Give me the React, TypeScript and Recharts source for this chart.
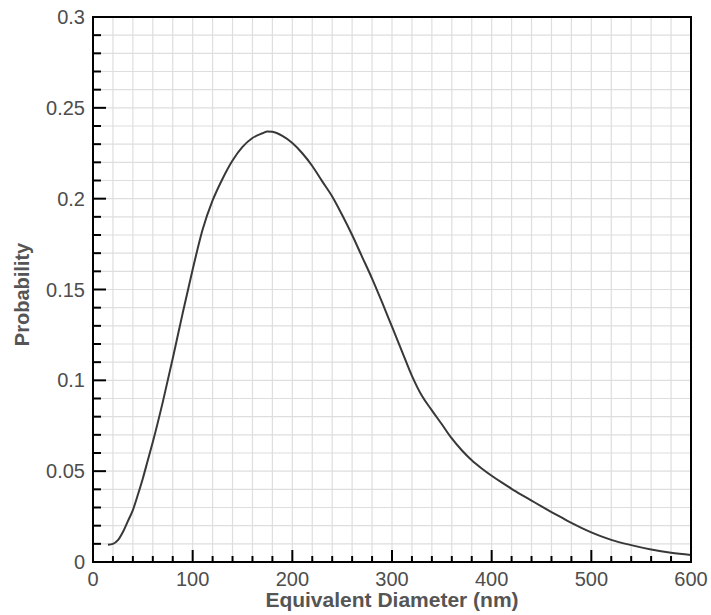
import { LineChart, Line, XAxis, YAxis, CartesianGrid, ReferenceArea, Label } from 'recharts';

// equivalent diameter (nm) and probability
const diameters = [
  15, 20, 25, 30, 35, 40, 45, 50, 55, 60, 70, 80, 90, 100, 110, 120, 130, 140, 150, 160, 170, 175, 180,
  190, 200, 210, 220, 230, 240, 250, 260, 270, 280, 290, 300, 310, 320, 330, 340, 350, 360, 370, 380,
  390, 400, 410, 420, 430, 440, 450, 460, 470, 480, 490, 500, 510, 520, 540, 560, 580, 600,
];
const probabilities = [
  0.0095, 0.01, 0.012, 0.0165, 0.0225, 0.0286, 0.037, 0.046, 0.056, 0.066, 0.088, 0.112, 0.137, 0.161,
  0.183, 0.199, 0.211, 0.221, 0.2285, 0.2334, 0.236, 0.237, 0.2368, 0.2345, 0.2306, 0.225, 0.218, 0.2095,
  0.2012, 0.191, 0.18, 0.168, 0.156, 0.143, 0.1295, 0.116, 0.1025, 0.0915, 0.0835, 0.0758, 0.068, 0.0615,
  0.056, 0.0515, 0.0475, 0.0438, 0.0403, 0.037, 0.0338, 0.0306, 0.0275, 0.0245, 0.0215, 0.0188, 0.0163,
  0.0141, 0.0122, 0.0093, 0.0069, 0.0051, 0.0039,
];

const xTicks = [
  0, 20, 40, 60, 80, 100, 120, 140, 160, 180, 200, 220, 240, 260, 280, 300, 320, 340, 360, 380, 400,
  420, 440, 460, 480, 500, 520, 540, 560, 580, 600,
];
const yTicks = [
  0, 0.01, 0.02, 0.03, 0.04, 0.05, 0.06, 0.07, 0.08, 0.09, 0.1, 0.11, 0.12, 0.13, 0.14, 0.15, 0.16,
  0.17, 0.18, 0.19, 0.2, 0.21, 0.22, 0.23, 0.24, 0.25, 0.26, 0.27, 0.28, 0.29, 0.3,
];

const data = diameters.map((d, i) => ({ d, p: probabilities[i] }));

const font = '"Liberation Sans", Arial, sans-serif';
const labelColor = '#4d4d4d';

function XTick(props: any) {
  const { x, y, payload } = props;
  const v = payload.value;
  const major = v % 100 === 0;
  return (
    <g>
      <line x1={x} x2={x} y1={y} y2={y - (major ? 12 : 6)} stroke="#000" strokeWidth={2} />
      {major && (
        <text x={x} y={y + 24} textAnchor="middle" fontSize={20} fill={labelColor} fontFamily={font}>
          {v}
        </text>
      )}
    </g>
  );
}

function YTick(props: any) {
  const { x, y, payload } = props;
  const v = payload.value;
  const major = Math.round(v * 100) % 5 === 0;
  return (
    <g>
      <line x1={x} x2={x + (major ? 13 : 8)} y1={y} y2={y} stroke="#000" strokeWidth={2} />
      {major && (
        <text x={x - 8} y={y + 7} textAnchor="end" fontSize={20} fill={labelColor} fontFamily={font}>
          {String(v)}
        </text>
      )}
    </g>
  );
}

export default function App() {
  return (
    <div style={{ position: 'absolute', left: 0, top: 0, background: '#fff' }}>
      <LineChart width={711} height={615} data={data} margin={{ top: 17, right: 20, bottom: 0, left: 0 }}>
        <CartesianGrid stroke="#dedede" strokeWidth={1.2} />
        <XAxis
          dataKey="d"
          type="number"
          domain={[0, 600]}
          ticks={xTicks}
          interval={0}
          tickSize={0}
          tickMargin={0}
          tickLine={false}
          axisLine={{ stroke: '#000', strokeWidth: 2 }}
          tick={<XTick />}
          height={53}
        >
          <Label
            content={({ viewBox }: any) => (
              <text
                x={viewBox.x + viewBox.width / 2}
                y={viewBox.y + 45}
                textAnchor="middle"
                fontSize={21}
                fontWeight="bold"
                fill="#555"
                fontFamily={font}
              >
                Equivalent Diameter (nm)
              </text>
            )}
          />
        </XAxis>
        <YAxis
          type="number"
          domain={[0, 0.3]}
          ticks={yTicks}
          interval={0}
          tickSize={0}
          tickMargin={0}
          tickLine={false}
          axisLine={{ stroke: '#000', strokeWidth: 2 }}
          tick={<YTick />}
          width={93}
        >
          <Label
            content={({ viewBox }: any) => {
              const cx = viewBox.x + 22;
              const cy = viewBox.y + viewBox.height / 2 + 5;
              return (
                <text
                  x={cx}
                  y={cy}
                  transform={`rotate(-90 ${cx} ${cy})`}
                  textAnchor="middle"
                  dominantBaseline="central"
                  fontSize={20}
                  fontWeight="bold"
                  fill="#555"
                  fontFamily={font}
                >
                  Probability
                </text>
              );
            }}
          />
        </YAxis>
        <Line
          type="monotone"
          dataKey="p"
          stroke="#383838"
          strokeWidth={2}
          dot={false}
          isAnimationActive={false}
        />
        <ReferenceArea x1={0} x2={600} y1={0} y2={0.3} fill="none" stroke="#000" strokeWidth={2} />
      </LineChart>
    </div>
  );
}
